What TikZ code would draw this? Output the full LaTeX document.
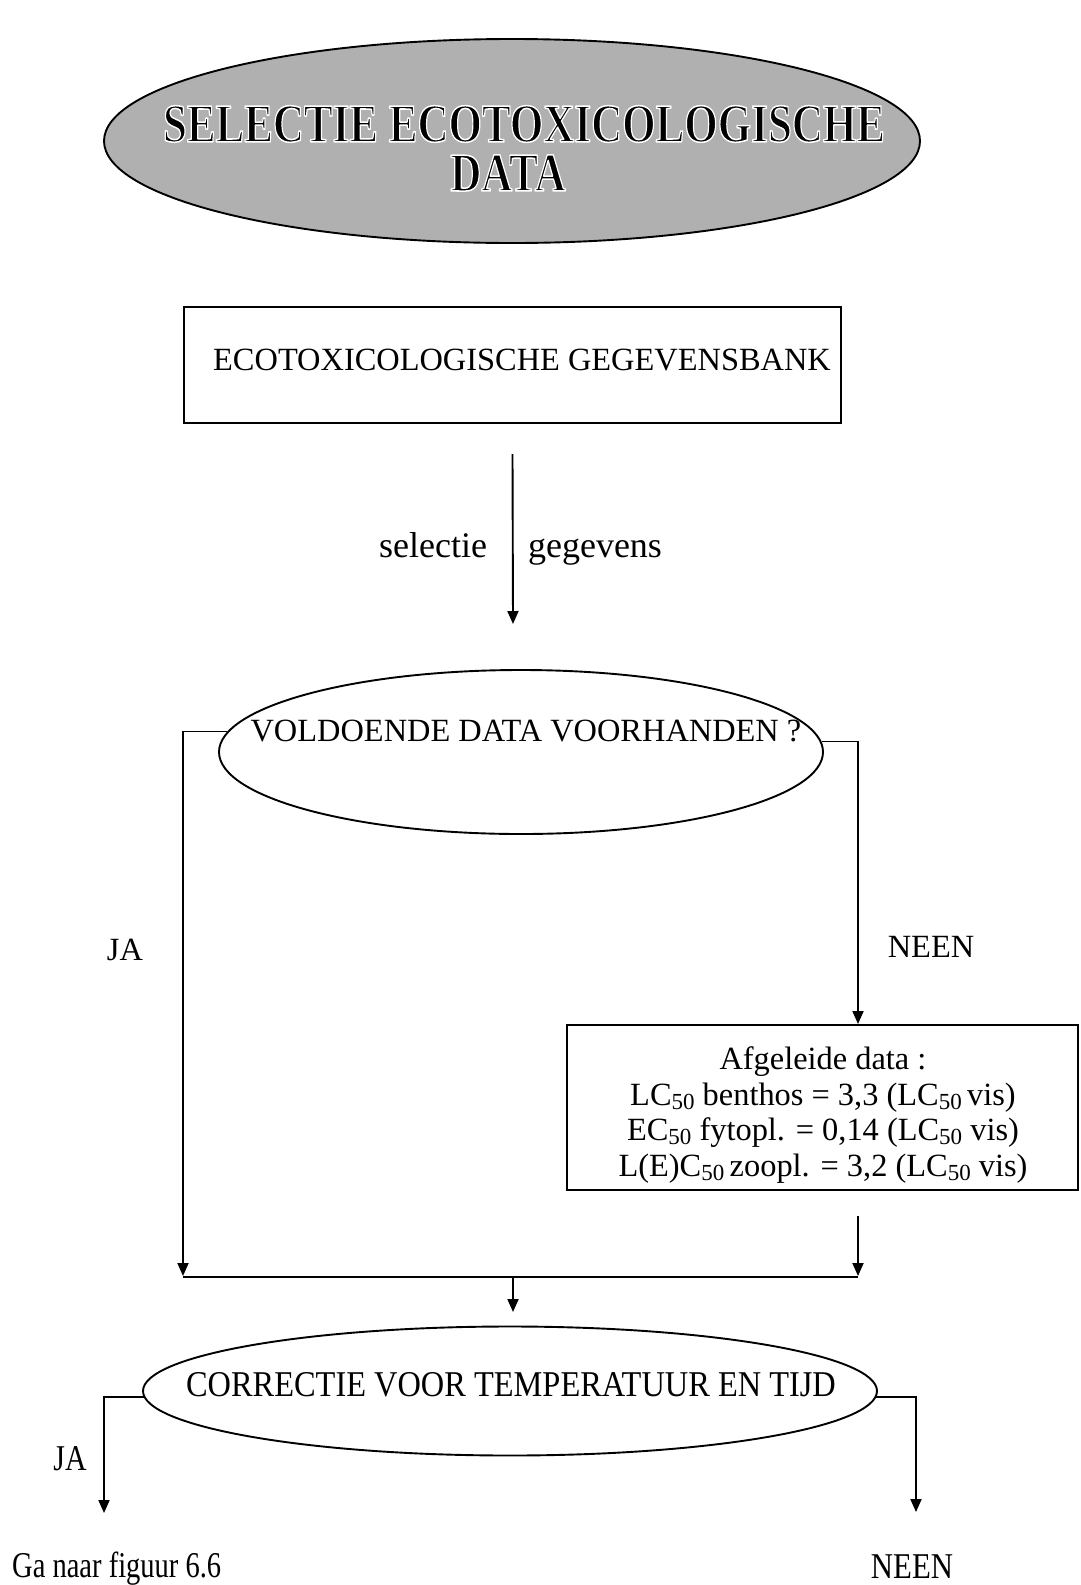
\documentclass[tikz,border=0pt]{standalone}
\usepackage{fontspec}
\setmainfont{Liberation Serif}
\usetikzlibrary{shapes.geometric,arrows.meta}
% subscript index as set in the flow chart (e.g. LC50)
\newcommand\lowidx[1]{\raisebox{-0.28ex}{\fontsize{23}{23}\selectfont #1}}
\newcommand\titlefont{\fontsize{43}{50}\bfseries\selectfont}
% title letters filled black and stroked white (text render mode 2)
\newcommand\haloed[1]{%
  \special{pdf:literal direct 2 Tr 1 1 1 RG 1.2 w 1 j}#1\special{pdf:literal direct 0 Tr 0 0 0 RG}}
\tikzset{
  flow/.style={line width=1.9pt},
  bus/.style={line width=2.6pt},
  arr/.style={flow,-{Triangle[length=13pt,width=11pt]}},
  frame/.style={draw,line width=2pt,inner sep=0pt},
  oval/.style={ellipse,draw,line width=1.9pt,inner sep=0pt},
  txt/.style={inner sep=0pt,font=\fontsize{32.4}{35.7}\selectfont},
  bigtxt/.style={inner sep=0pt,font=\fontsize{36}{40}\selectfont},
  ttl/.style={inner sep=0pt,font=\titlefont},
}
\begin{document}
\begin{tikzpicture}[x=1pt,y=-1pt]
\useasboundingbox (0,0) rectangle (1081,1585);

% ---- title oval ----
\node[oval, fill=black!31, minimum width=816pt, minimum height=204pt] (title) at (512,141) {};
\node[ttl] (titleA) at (524,124) {\scalebox{1}[1.27]{\haloed{SELECTIE ECOTOXICOLOGISCHE}}};
\node[ttl] (titleB) at (508,173) {\scalebox{1}[1.27]{\haloed{DATA}}};

% ---- data bank ----
\node[frame, minimum width=657pt, minimum height=116pt] (bank) at (512.5,365) {};
\node[txt, anchor=west] (banktxt) at (213,360) {ECOTOXICOLOGISCHE GEGEVENSBANK};

\coordinate (selEnd) at (513,624);
\draw[arr] ([yshift=-30pt]bank.south) -- (selEnd);
\node[bigtxt, anchor=base] (selA) at (433,557) {selectie};
\node[bigtxt, anchor=base] (selB) at (595,557) {gegevens};

% ---- first question ----
\node[oval, minimum width=604pt, minimum height=164pt] (q1) at (521,752) {};
\node[txt] (q1txt) at (526,731) {VOLDOENDE DATA VOORHANDEN ?};

\node[txt] (jaA) at (125,950) {JA};
\node[txt] (neenA) at (931,947) {NEEN};

% ---- derived data ----
\node[frame, minimum width=511pt, minimum height=165pt] (derived) at (822.5,1107.5) {};
\node[txt, align=center] (derivedtxt) at (823,1115) {%
  Afgeleide data :\\
  LC\lowidx{50} benthos = 3,3 (LC\lowidx{50}\,vis)\\
  EC\lowidx{50} fytopl. = 0,14 (LC\lowidx{50} vis)\\
  L(E)C\lowidx{50}\,zoopl. = 3,2 (LC\lowidx{50} vis)};

% ---- joining bus ----
\coordinate (jl) at (183,1277);
\coordinate (jr) at (858,1277);
\coordinate (jm) at (513,1277);
\draw[arr] (q1.176) -| ([yshift=1pt]jl);
\draw[arr] (q1.2) -| ([xshift=35.5pt]derived.north);
\draw[arr] ([xshift=35.5pt,yshift=-25pt]derived.south) -- ([yshift=1pt]jr);
\draw[bus] (jl) -- (jr);
\coordinate (corrIn) at (513,1312);
\draw[arr] (jm) -- (corrIn);

% ---- second question ----
\node[oval, minimum width=734pt, minimum height=129pt] (q2) at (510,1391) {};
\node[txt] (q2txt) at (511,1385) {\scalebox{1}[1.12]{CORRECTIE VOOR TEMPERATUUR EN TIJD}};

\coordinate (goL) at (104,1513);
\coordinate (goR) at (916,1512);
\draw[arr] (q2.181) -| (goL);
\draw[arr] (q2.359) -| (goR);

\node[txt] (jaB) at (70,1459) {\scalebox{0.92}[1.12]{JA}};
\node[txt, anchor=west] (goto) at (12,1569) {\scalebox{0.88}[1.12]{Ga naar figuur 6.6}};
\node[txt] (neenB) at (912,1567) {\scalebox{0.95}[1.12]{NEEN}};
\end{tikzpicture}
\end{document}
